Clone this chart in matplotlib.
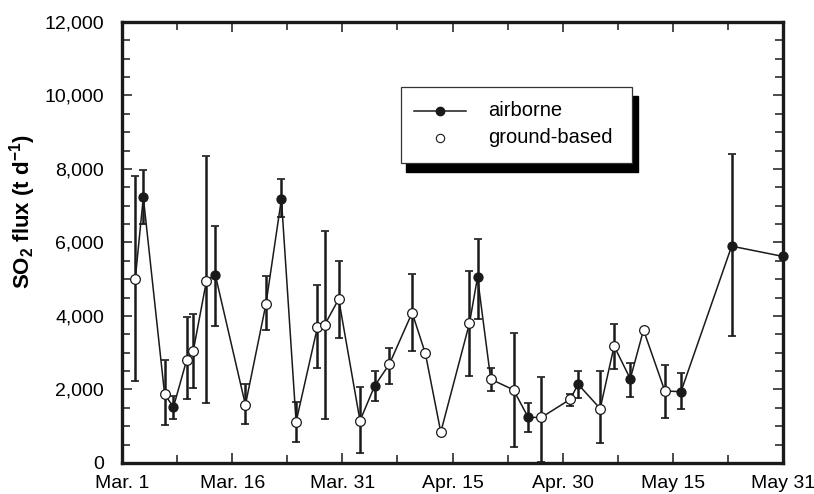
import numpy as np
import matplotlib
matplotlib.use("Agg")
import matplotlib.pyplot as plt
from matplotlib.patches import Rectangle
from matplotlib.lines import Line2D

plt.rcParams['font.family'] = ['Liberation Sans', 'DejaVu Sans']
plt.rcParams['mathtext.fontset'] = 'custom'
plt.rcParams['mathtext.rm'] = 'Liberation Sans'
plt.rcParams['mathtext.bf'] = 'Liberation Sans:bold'

# days after Mar. 1
ground_day = [1.8, 5.8, 8.8, 9.7, 11.5, 16.8, 19.6, 23.7, 26.6, 27.6, 29.5, 32.4, 36.4,
              39.5, 41.3, 43.4, 47.3, 50.2, 53.3, 57.1, 61.0, 65.1, 67.0, 71.0, 73.9]
ground_flux = [5000, 1870, 2800, 3050, 4960, 1580, 4330, 1120, 3690, 3760, 4460, 1150, 2690,
               4090, 2980, 840, 3800, 2280, 1990, 1240, 1730, 1480, 3180, 3620, 1960]
ground_lo = [2240, 1020, 1730, 2050, 1640, 1050, 3620, 560, 2580, 1200, 3410, 260, 2150,
             3050, np.nan, np.nan, 2370, 1970, 440, 40, 1550, 550, 2550, np.nan, 1230]
ground_hi = [7810, 2800, 3960, 4050, 8350, 2140, 5100, 1670, 4830, 6320, 5500, 2080, 3120,
             5130, np.nan, np.nan, 5220, 2590, 3530, 2350, 1880, 2490, 3780, np.nan, 2670]

air_day = [2.9, 7.0, 12.7, 21.7, 34.4, 48.4, 55.3, 62.1, 69.2, 76.1, 83.0, 90.0]
air_flux = [7230, 1520, 5120, 7180, 2100, 5050, 1240, 2140, 2290, 1940, 5900, 5620]
air_lo = [6500, 1200, 3730, 6700, 1690, 3910, 830, 1780, 1790, 1460, 3460, np.nan]
air_hi = [7970, 1810, 6460, 7730, 2500, 6100, 1640, 2490, 2710, 2460, 8410, np.nan]

tick_days = [0, 15, 30, 45, 60, 75, 90]
tick_labels = ["Mar. 1", "Mar. 16", "Mar. 31", "Apr. 15", "Apr. 30", "May 15", "May 31"]

ink = '#1a1a1a'

fig = plt.figure(figsize=(8.14, 4.94), dpi=100)
ax = fig.add_axes([0.1499, 0.0628, 0.8121, 0.8927])

# one line through all measurements in time order
all_day = np.array(ground_day + air_day)
all_flux = np.array(ground_flux + air_flux)
order = np.argsort(all_day)
ax.plot(all_day[order], all_flux[order], color=ink, lw=1.1, zorder=2)

def bars(day, flux, lo, hi):
    day, flux, lo, hi = map(np.array, (day, flux, lo, hi))
    m = ~np.isnan(lo)
    ax.errorbar(day[m], flux[m], yerr=[flux[m] - lo[m], hi[m] - flux[m]], fmt='none',
                ecolor=ink, elinewidth=1.8, capsize=3, capthick=1.2, zorder=3)

bars(ground_day, ground_flux, ground_lo, ground_hi)
bars(air_day, air_flux, air_lo, air_hi)

ax.plot(ground_day, ground_flux, 'o', ms=7, mfc='white', mec=ink, mew=0.9, zorder=4,
        clip_on=False)
ax.plot(air_day, air_flux, 'o', ms=6.5, mfc=ink, mec=ink, mew=0.9, zorder=4,
        clip_on=False)

ax.set_xlim(0, 90)
ax.set_ylim(0, 12000)
ax.set_xticks(tick_days)
ax.set_xticklabels(tick_labels)
ax.set_xticks(np.arange(7.5, 90, 15), minor=True)
ax.set_yticks(np.arange(0, 12001, 2000))
ax.set_yticklabels([f"{v:,}" for v in range(0, 12001, 2000)])
ax.set_yticks(np.arange(500, 12000, 500), minor=True)

ax.tick_params(which='both', direction='in', top=True, right=True, color=ink, width=1.1)
ax.tick_params(which='major', length=7)
ax.tick_params(which='minor', length=6)
ax.tick_params(axis='x', which='major', labelsize=14, pad=9)
ax.tick_params(axis='y', which='major', labelsize=14, pad=13)
for s in ax.spines.values():
    s.set_linewidth(2.4)
    s.set_color(ink)

ax.set_ylabel(r'SO$_\mathbf{2}$ flux (t d$^\mathbf{-1}$)', fontsize=16, fontweight='bold')
ax.yaxis.set_label_coords(-0.127, 0.571)

# legend box with hard shadow
bx0, by0, bw, bh = 0.422, 0.680, 0.350, 0.173
ax.add_patch(Rectangle((bx0 + 0.008, by0 - 0.021), bw, bh, transform=ax.transAxes,
                       facecolor='black', edgecolor='black', zorder=5))
ax.add_patch(Rectangle((bx0, by0), bw, bh, transform=ax.transAxes,
                       facecolor='white', edgecolor='#333333', lw=0.9, zorder=6))
ax.add_line(Line2D([0.441, 0.521], [0.799, 0.799], transform=ax.transAxes,
                   color=ink, lw=1.1, zorder=7))
ax.add_line(Line2D([0.481], [0.799], transform=ax.transAxes, marker='o', ms=6,
                   mfc=ink, mec=ink, zorder=8))
ax.add_line(Line2D([0.481], [0.738], transform=ax.transAxes, marker='o', ms=6,
                   mfc='white', mec=ink, mew=0.8, zorder=8))
ax.text(0.554, 0.799, 'airborne', transform=ax.transAxes, fontsize=14.5,
        va='center', ha='left', zorder=8)
ax.text(0.554, 0.738, 'ground-based', transform=ax.transAxes, fontsize=14.5,
        va='center', ha='left', zorder=8)

fig.savefig('out.png', dpi=100)
